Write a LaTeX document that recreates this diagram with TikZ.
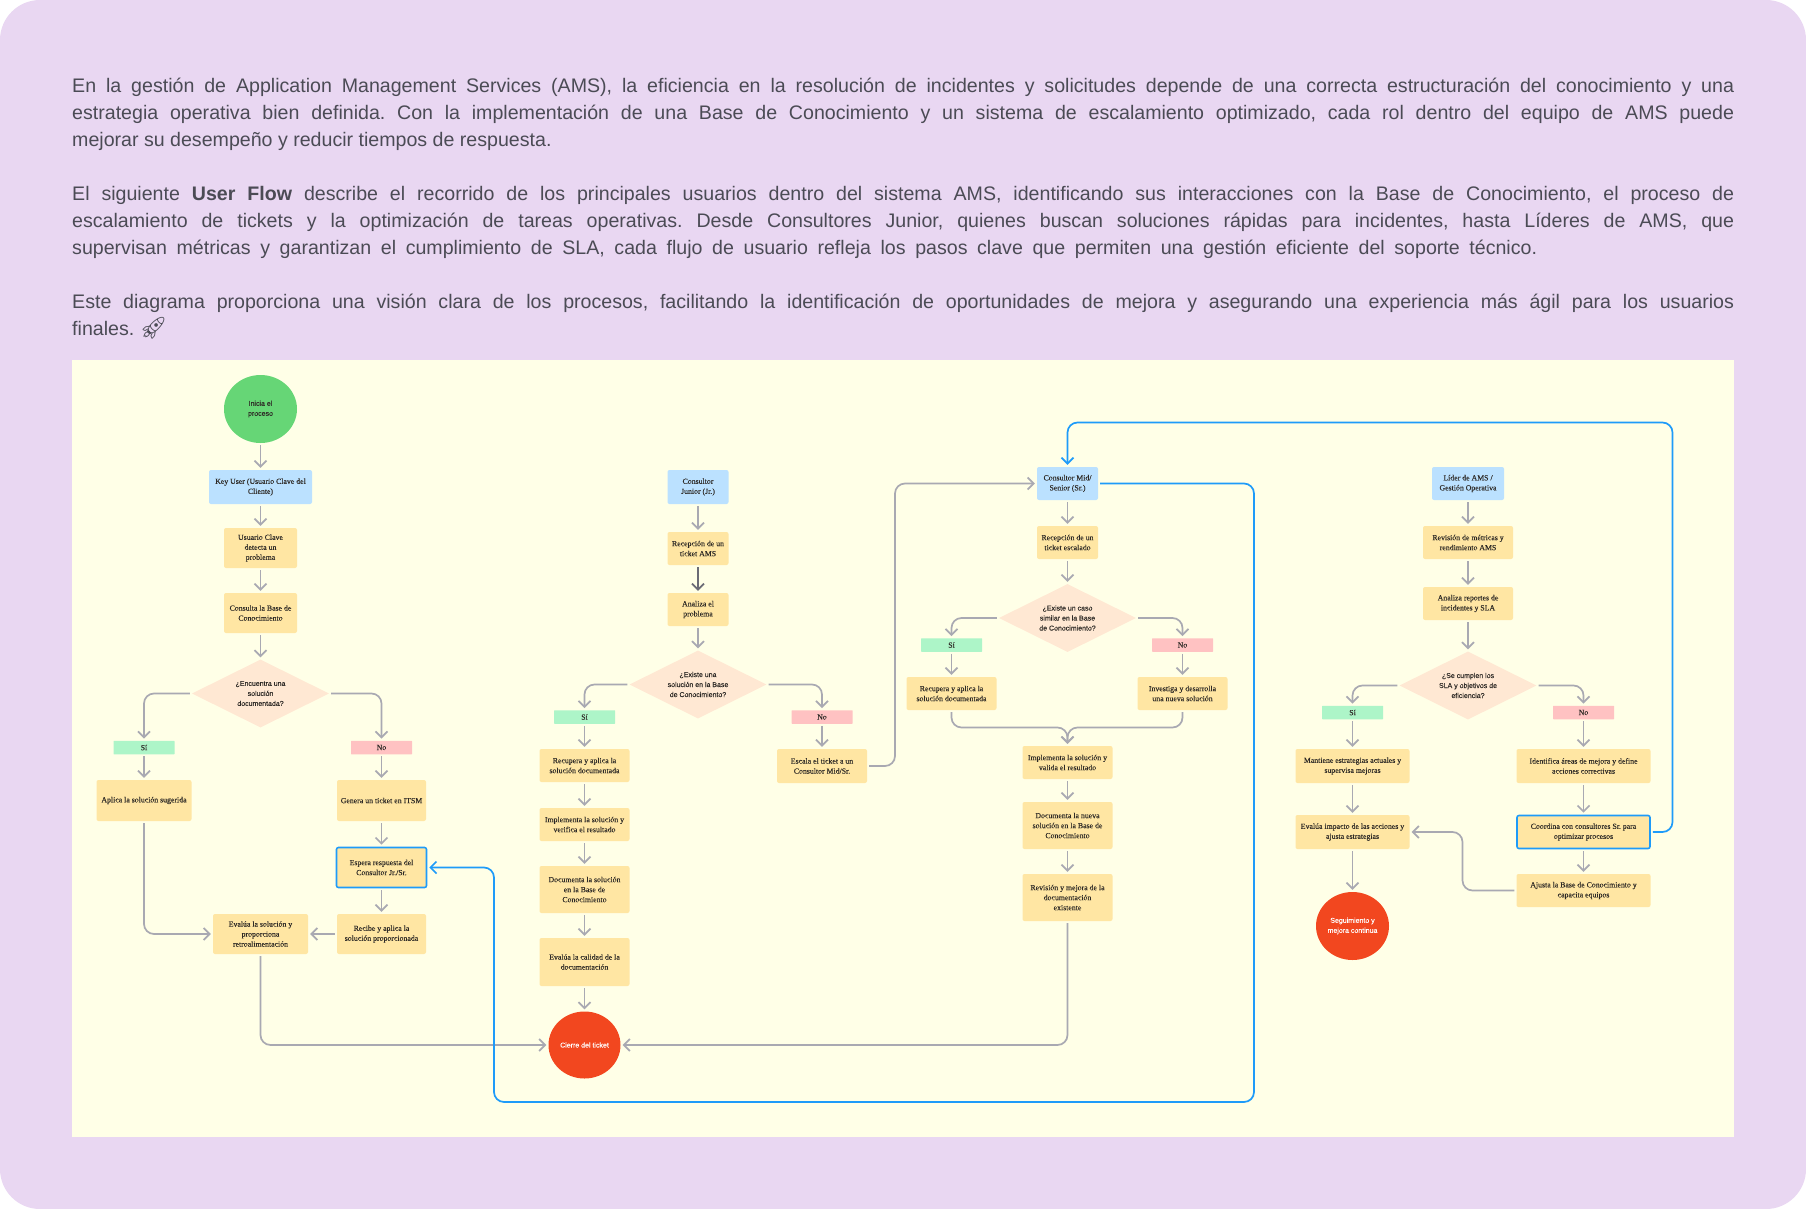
\documentclass[tikz,border=0pt]{standalone}
\usepackage{fontspec}
\setmainfont{Liberation Serif}[FakeBold=0.12]
\setsansfont{Liberation Sans}
\newfontfamily\nodosans{Liberation Sans}[FakeBold=0.1]
\newfontfamily\emojifont{Noto Emoji}
\usetikzlibrary{shapes.geometric, arrows.meta, positioning}
\definecolor{fondo}{HTML}{E9D7F2}
\definecolor{panel}{HTML}{FFFFE7}
\definecolor{cuerpo}{HTML}{4B4B55}
\definecolor{amarillo}{HTML}{FFE6A3}
\definecolor{celeste}{HTML}{BBE1FF}
\definecolor{durazno}{HTML}{FFE8D3}
\definecolor{verdesi}{HTML}{ADF5C8}
\definecolor{rojono}{HTML}{FFC2C2}
\definecolor{verdeini}{HTML}{66D676}
\definecolor{rojofin}{HTML}{F2471F}
\definecolor{azul}{HTML}{1E9BF9}
\definecolor{gris}{HTML}{A9A9B2}
\definecolor{grisosc}{HTML}{6B6B75}
\definecolor{tinta}{HTML}{2E2A26}
\frenchspacing
\tikzset{
  parrafo/.style={anchor=north west, inner sep=0pt, align=left, text=cuerpo, font=\sffamily\fontsize{19.6}{27}\selectfont},
  caja/.style={fill=amarillo, rounded corners=2pt, inner sep=0pt, align=center, text=tinta, font=\fontsize{7.8}{10}\selectfont},
  rol/.style={caja, fill=celeste},
  marcada/.style={caja, draw=azul, line width=1.6pt},
  decision/.style={diamond, aspect=2, fill=durazno, inner sep=0pt, align=center, text=tinta, minimum width=137pt, minimum height=68pt, font=\nodosans\fontsize{7}{10}\selectfont},
  etiquetasi/.style={caja, fill=verdesi, rounded corners=0.5pt, minimum width=61pt, minimum height=13.5pt},
  etiquetano/.style={etiquetasi, fill=rojono},
  inicio/.style={ellipse, fill=verdeini, inner sep=0pt, align=center, text=tinta, font=\nodosans\fontsize{7}{10}\selectfont},
  final/.style={ellipse, fill=rojofin, inner sep=0pt, align=center, text=white, font=\nodosans\fontsize{7}{10}\selectfont},
  flecha/.style={draw=gris, line width=1.7pt, rounded corners=10pt, shorten <=2pt, shorten >=2pt, -{Straight Barb[length=6pt,width=12pt]}},
  flechaazul/.style={flecha, draw=azul},
  flechaosc/.style={flecha, draw=grisosc}
}
\begin{document}
\begin{tikzpicture}[x=1pt, y=-1pt]
  \useasboundingbox (0,0) rectangle (1806,1209);
  % Fondo y panel
  \fill[fondo, rounded corners=40pt] (0,0) rectangle (1806,1209);
  \fill[panel] (72,360) rectangle (1734,1137);
  % Texto introductorio
  \node[parrafo] (intro1) at (72,78) {\makebox[1662pt][s]{En la gestión de Application Management Services (AMS), la eficiencia en la resolución de incidentes y solicitudes depende de una correcta estructuración del conocimiento y una}\\
    \makebox[1662pt][s]{estrategia operativa bien definida. Con la implementación de una Base de Conocimiento y un sistema de escalamiento optimizado, cada rol dentro del equipo de AMS puede}\\
    mejorar su desempeño y reducir tiempos de respuesta.};
  \node[parrafo] (intro2) at (72,186) {\makebox[1662pt][s]{El siguiente \textbf{User Flow} describe el recorrido de los principales usuarios dentro del sistema AMS, identificando sus interacciones con la Base de Conocimiento, el proceso de}\\
    \makebox[1662pt][s]{escalamiento de tickets y la optimización de tareas operativas. Desde Consultores Junior, quienes buscan soluciones rápidas para incidentes, hasta Líderes de AMS, que}\\
    \makebox[1465pt][s]{supervisan métricas y garantizan el cumplimiento de SLA, cada flujo de usuario refleja los pasos clave que permiten una gestión eficiente del soporte técnico.}};
  \node[parrafo] (intro3) at (72,294) {\makebox[1662pt][s]{Este diagrama proporciona una visión clara de los procesos, facilitando la identificación de oportunidades de mejora y asegurando una experiencia más ágil para los usuarios}\\
    finales. {\emojifont\fontsize{22}{27}\selectfont 🚀}};
  % Columna Key User
  \node[inicio, minimum width=73pt, minimum height=68pt] (ini) at (260.5,409) {Inicia el\\proceso};
  \node[rol, minimum width=103pt, minimum height=34pt] (keyuser) at (260.5,487) {Key User (Usuario Clave del\\Cliente)};
  \node[caja, minimum width=73pt, minimum height=40pt] (detecta) at (260.5,548) {Usuario Clave\\detecta un\\problema};
  \node[caja, minimum width=73pt, minimum height=40pt] (consulta) at (260.5,613) {Consulta la Base de\\Conocimiento};
  \node[decision] (dec1) at (260.5,693.5) {¿Encuentra una\\solución\\documentada?};
  \node[etiquetasi] (si1) at (144,747.5) {Sí};
  \node[etiquetano] (no1) at (381.5,747.5) {No};
  \node[caja, minimum width=95pt, minimum height=41pt] (aplica) at (144,800.5) {Aplica la solución sugerida};
  \node[caja, minimum width=89pt, minimum height=41pt] (genera) at (381.5,800.5) {Genera un ticket en ITSM};
  \node[marcada, minimum width=90pt, minimum height=40pt] (espera) at (381.5,867.5) {Espera respuesta del\\Consultor Jr./Sr.};
  \node[caja, minimum width=89pt, minimum height=40pt] (recibe) at (381.5,934) {Recibe y aplica la\\solución proporcionada};
  \node[caja, minimum width=95pt, minimum height=40pt] (evalua) at (260.5,934) {Evalúa la solución y\\proporciona\\retroalimentación};
  % Columna Consultor Junior
  \node[rol, minimum width=61pt, minimum height=34pt] (junior) at (698,487) {Consultor\\Junior (Jr.)};
  \node[caja, minimum width=61pt, minimum height=33pt] (recjr) at (698,548.5) {Recepción de un\\ticket AMS};
  \node[caja, minimum width=61pt, minimum height=33pt] (analiza) at (698,609.5) {Analiza el\\problema};
  \node[decision] (dec2) at (698,684.5) {¿Existe una\\solución en la Base\\de Conocimiento?};
  \node[etiquetasi] (si2) at (584.5,717) {Sí};
  \node[etiquetano] (no2) at (822,717) {No};
  \node[caja, minimum width=90pt, minimum height=33pt] (recupera2) at (584.5,765.5) {Recupera y aplica la\\solución documentada};
  \node[caja, minimum width=90pt, minimum height=33pt] (implementa2) at (584.5,824.5) {Implementa la solución y\\verifica el resultado};
  \node[caja, minimum width=90pt, minimum height=47pt] (documenta2) at (584.5,889.5) {Documenta la solución\\en la Base de\\Conocimiento};
  \node[caja, minimum width=90pt, minimum height=48pt] (calidad) at (584.5,962) {Evalúa la calidad de la\\documentación};
  \node[final, minimum width=72pt, minimum height=67pt] (cierre) at (584.5,1045) {Cierre del ticket};
  \node[caja, minimum width=90pt, minimum height=34pt] (escala) at (822,766) {Escala el ticket a un\\Consultor Mid/Sr.};
  % Columna Consultor Mid/Senior
  \node[rol, minimum width=61pt, minimum height=33pt] (mid) at (1067.5,483.5) {Consultor Mid/\\Senior (Sr.)};
  \node[caja, minimum width=61pt, minimum height=33pt] (recsr) at (1067.5,542.5) {Recepción de un\\ticket escalado};
  \node[decision] (dec3) at (1067.5,618) {¿Existe un caso\\similar en la Base\\de Conocimiento?};
  \node[etiquetasi] (si3) at (951.5,645) {Sí};
  \node[etiquetano] (no3) at (1182.5,645) {No};
  \node[caja, minimum width=90pt, minimum height=33pt] (recupera3) at (951.5,693.5) {Recupera y aplica la\\solución documentada};
  \node[caja, minimum width=90pt, minimum height=33pt] (investiga) at (1182.5,693.5) {Investiga y desarrolla\\una nueva solución};
  \coordinate (union) at (1067.5,727.5);
  \node[caja, minimum width=90pt, minimum height=33pt] (implementa3) at (1067.5,762.5) {Implementa la solución y\\valida el resultado};
  \node[caja, minimum width=90pt, minimum height=47pt] (documenta3) at (1067.5,825.5) {Documenta la nueva\\solución en la Base de\\Conocimiento};
  \node[caja, minimum width=90pt, minimum height=47pt] (revision) at (1067.5,897.5) {Revisión y mejora de la\\documentación\\existente};
  % Columna Lider de AMS
  \node[rol, minimum width=72pt, minimum height=33pt] (lider) at (1468,483.5) {Líder de AMS /\\Gestión Operativa};
  \node[caja, minimum width=90pt, minimum height=33pt] (metricas) at (1468,542.5) {Revisión de métricas y\\rendimiento AMS};
  \node[caja, minimum width=90pt, minimum height=33pt] (reportes) at (1468,603.5) {Analiza reportes de\\incidentes y SLA};
  \node[decision] (dec4) at (1468,685.5) {¿Se cumplen los\\SLA y objetivos de\\eficiencia?};
  \node[etiquetasi] (si4) at (1352.5,712.5) {Sí};
  \node[etiquetano] (no4) at (1583.5,712.5) {No};
  \node[caja, minimum width=114pt, minimum height=34pt] (mantiene) at (1352.5,766) {Mantiene estrategias actuales y\\supervisa mejoras};
  \node[caja, minimum width=134pt, minimum height=34pt] (identifica) at (1583.5,766) {Identifica áreas de mejora y define\\acciones correctivas};
  \node[caja, minimum width=114pt, minimum height=34pt] (impacto) at (1352.5,832) {Evalúa impacto de las acciones y\\ajusta estrategias};
  \node[marcada, minimum width=133pt, minimum height=33pt] (coordina) at (1583.5,832) {Coordina con consultores Sr. para\\optimizar procesos};
  \node[caja, minimum width=134pt, minimum height=33pt] (ajusta) at (1583.5,890.5) {Ajusta la Base de Conocimiento y\\capacita equipos};
  \node[final, minimum width=73pt, minimum height=68pt] (seguimiento) at (1352.5,926) {Seguimiento y\\mejora continua};
  % Puntos de paso
  \coordinate (azul1) at (1254,1102);
  \coordinate (azul2) at (494,1102);
  \coordinate (azul3) at (1672.5,422.5);
  \coordinate (paso1) at (895,483.5);
  \coordinate (paso2) at (1462.5,832);
  % Conectores Key User
  \draw[flecha] (ini.south) -- (keyuser.north);
  \draw[flecha] (keyuser.south) -- (detecta.north);
  \draw[flecha] (detecta.south) -- (consulta.north);
  \draw[flecha] (consulta.south) -- (dec1.north);
  \draw[flecha] (dec1.west) -| (si1.north);
  \draw[flecha] (dec1.east) -| (no1.north);
  \draw[flecha] (si1.south) -- (aplica.north);
  \draw[flecha] (no1.south) -- (genera.north);
  \draw[flecha] (genera.south) -- (espera.north);
  \draw[flecha] (espera.south) -- (recibe.north);
  \draw[flecha] (recibe.west) -- (evalua.east);
  \draw[flecha] (aplica.south) |- (evalua.west);
  \draw[flecha] (evalua.south) |- (cierre.west);
  % Conectores Consultor Junior
  \draw[flecha] (junior.south) -- (recjr.north);
  \draw[flechaosc] (recjr.south) -- (analiza.north);
  \draw[flecha] (analiza.south) -- (dec2.north);
  \draw[flecha] (dec2.west) -| (si2.north);
  \draw[flecha] (dec2.east) -| (no2.north);
  \draw[flecha] (si2.south) -- (recupera2.north);
  \draw[flecha] (recupera2.south) -- (implementa2.north);
  \draw[flecha] (implementa2.south) -- (documenta2.north);
  \draw[flecha] (documenta2.south) -- (calidad.north);
  \draw[flecha] (calidad.south) -- (cierre.north);
  \draw[flecha] (no2.south) -- (escala.north);
  \draw[flecha] (escala.east) -| (paso1) -- (mid.west);
  % Conectores Consultor Mid/Senior
  \draw[flecha] (mid.south) -- (recsr.north);
  \draw[flecha] (recsr.south) -- (dec3.north);
  \draw[flecha] (dec3.west) -| (si3.north);
  \draw[flecha] (dec3.east) -| (no3.north);
  \draw[flecha] (si3.south) -- (recupera3.north);
  \draw[flecha] (no3.south) -- (investiga.north);
  \draw[flecha] (recupera3.south) |- (union) -- (implementa3.north);
  \draw[flecha] (investiga.south) |- (union) -- (implementa3.north);
  \draw[flecha] (implementa3.south) -- (documenta3.north);
  \draw[flecha] (documenta3.south) -- (revision.north);
  \draw[flecha] (revision.south) |- (cierre.east);
  % Conectores Lider de AMS
  \draw[flecha] (lider.south) -- (metricas.north);
  \draw[flecha] (metricas.south) -- (reportes.north);
  \draw[flecha] (reportes.south) -- (dec4.north);
  \draw[flecha] (dec4.west) -| (si4.north);
  \draw[flecha] (dec4.east) -| (no4.north);
  \draw[flecha] (si4.south) -- (mantiene.north);
  \draw[flecha] (no4.south) -- (identifica.north);
  \draw[flecha] (mantiene.south) -- (impacto.north);
  \draw[flecha] (impacto.south) -- (seguimiento.north);
  \draw[flecha] (identifica.south) -- (coordina.north);
  \draw[flecha] (coordina.south) -- (ajusta.north);
  \draw[flecha] (ajusta.west) -| (paso2) -- (impacto.east);
  % Lazos azules
  \draw[flechaazul] (mid.east) -| (azul1) -- (azul2) |- (espera.east);
  \draw[flechaazul] (coordina.east) -| (azul3) -| (mid.north);
\end{tikzpicture}
\end{document}
